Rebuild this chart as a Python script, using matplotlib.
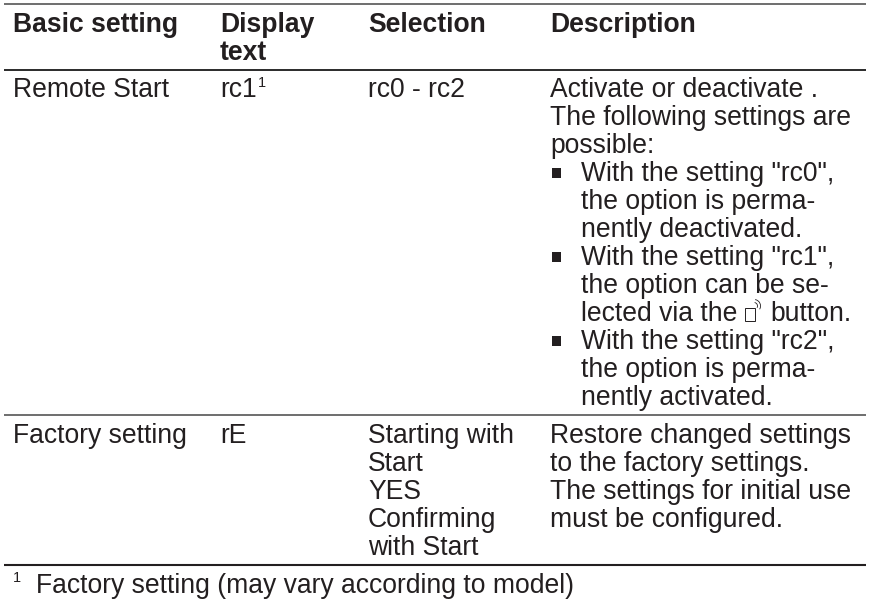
import matplotlib
matplotlib.use("Agg")
import matplotlib.pyplot as plt
from matplotlib.patches import Rectangle, Arc

plt.rcParams['font.family'] = ['Liberation Sans', 'DejaVu Sans']

# table contents, one list per cell, one string per printed line
col_header = [["Basic setting"], ["Display", "text"], ["Selection"], ["Description"]]
row1_setting = ["Remote Start"]
row1_display = "rc1"
row1_selection = ["rc0 - rc2"]
row1_description = ["Activate or deactivate .",
                    "The following settings are",
                    "possible:"]
row1_bullets = [["With the setting \"rc0\",", "the option is perma-", "nently deactivated."],
                ["With the setting \"rc1\",", "the option can be se-", "lected via the"],
                ["With the setting \"rc2\",", "the option is perma-", "nently activated."]]
row2_setting = ["Factory setting"]
row2_display = ["rE"]
row2_selection = ["Starting with", "Start", "YES", "Confirming", "with Start"]
row2_description = ["Restore changed settings",
                    "to the factory settings.",
                    "The settings for initial use",
                    "must be configured."]
footnote = "Factory setting (may vary according to model)"

col_x = [13, 220, 368, 550]
bullet_x = 581
rule_y = [4, 70, 415, 565]
rule_color = ["#555555", "#2a2a2a", "#555555", "#231f20"]
rule_lw = [1.2, 1.4, 1.2, 1.5]
rule_breaks = [4, 212, 359, 541, 866]
line_h = 28
ink = "#231f20"
fs = 19.1

fig = plt.figure(figsize=(8.7, 6), dpi=100)
ax = fig.add_axes([0, 0, 1, 1])
ax.set_xlim(0, 870)
ax.set_ylim(600, 0)
ax.axis("off")

def lines(x, y, rows, **kw):
    for i, s in enumerate(rows):
        ax.text(x, y + i * line_h, s, color=ink, fontsize=fs, va="baseline", **kw)

# rules are split at the column edges, like the printed table
for y, c, w in zip(rule_y, rule_color, rule_lw):
    for x0, x1 in zip(rule_breaks[:-1], rule_breaks[1:]):
        ax.plot([x0, x1 - 0.2], [y, y], color=c, lw=w, solid_capstyle="butt")

for x, rows in zip(col_x, col_header):
    lines(x, 32, rows, fontweight="bold")

lines(col_x[0], 97, row1_setting)
lines(col_x[1], 97, [row1_display])
ax.text(258, 87, "1", color=ink, fontsize=10.5, va="baseline")
lines(col_x[2], 97, row1_selection)
lines(col_x[3], 97, row1_description)

y = 97 + 3 * line_h
for group in row1_bullets:
    ax.add_patch(Rectangle((552, y - 13), 9.5, 9.5, color=ink, lw=0))
    lines(bullet_x, y, group)
    y += 3 * line_h

# remote control icon and the rest of that line
iy = 97 + 8 * line_h
ax.add_patch(Rectangle((745, iy - 13), 10, 13, fill=False, ec=ink, lw=0.7))
for r in (7, 13):
    ax.add_patch(Arc((754, iy - 15), r, r, theta1=-80, theta2=30, color=ink, lw=0.6))
ax.text(770, iy, "button.", color=ink, fontsize=fs, va="baseline")

lines(col_x[0], 443, row2_setting)
lines(col_x[1], 443, row2_display)
lines(col_x[2], 443, row2_selection)
lines(col_x[3], 443, row2_description)

ax.text(13, 582, "1", color=ink, fontsize=10.5, va="baseline")
ax.text(36, 593, footnote, color=ink, fontsize=fs, va="baseline")

fig.savefig("out.png", dpi=100)
